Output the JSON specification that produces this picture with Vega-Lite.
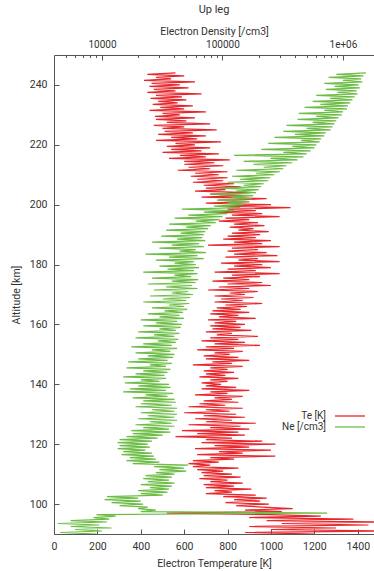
{
"$schema":"https://vega.github.io/schema/vega-lite/v6.json",
"width":320,"height":479,
"autosize":{"type":"none"},
"padding":{"left":54,"top":55,"right":0,"bottom":37},
"title":{"text":"Up leg","fontSize":11,"fontWeight":"normal","color":"#333","font":"Roboto","offset":11},
"data":{"values":[
{"h":244,"t":560,"n":1550000},{"h":243.5,"t":430,"n":880000},{"h":243,"t":600,"n":1480000},{"h":242.5,"t":470,"n":760000},{"h":242,"t":540,"n":1420000},{"h":241.5,"t":415,"n":1000000},{"h":241,"t":650,"n":1450000},{"h":240.5,"t":450,"n":700000},{"h":240,"t":580,"n":1350000},{"h":239.5,"t":440,"n":850000},
{"h":239,"t":620,"n":1380000},{"h":238.5,"t":460,"n":720000},{"h":238,"t":560,"n":1300000},{"h":237.5,"t":430,"n":900000},{"h":237,"t":680,"n":1320000},{"h":236.5,"t":470,"n":600000},{"h":236,"t":590,"n":1250000},{"h":235.5,"t":445,"n":780000},{"h":235,"t":610,"n":1200000},{"h":234.5,"t":480,"n":560000},
{"h":234,"t":570,"n":1150000},{"h":233.5,"t":455,"n":650000},{"h":233,"t":640,"n":1100000},{"h":232.5,"t":490,"n":480000},{"h":232,"t":600,"n":1080000},{"h":231.5,"t":440,"n":700000},{"h":231,"t":700,"n":1000000},{"h":230.5,"t":500,"n":430000},{"h":230,"t":580,"n":980000},{"h":229.5,"t":465,"n":600000},
{"h":229,"t":650,"n":920000},{"h":228.5,"t":470,"n":420000},{"h":228,"t":610,"n":880000},{"h":227.5,"t":520,"n":560000},{"h":227,"t":720,"n":850000},{"h":226.5,"t":460,"n":340000},{"h":226,"t":600,"n":820000},{"h":225.5,"t":500,"n":500000},{"h":225,"t":750,"n":790000},{"h":224.5,"t":510,"n":320000},
{"h":224,"t":640,"n":720000},{"h":223.5,"t":480,"n":400000},{"h":223,"t":700,"n":700000},{"h":222.5,"t":540,"n":270000},{"h":222,"t":660,"n":660000},{"h":221.5,"t":470,"n":450000},{"h":221,"t":770,"n":640000},{"h":220.5,"t":560,"n":240000},{"h":220,"t":650,"n":600000},{"h":219.5,"t":520,"n":380000},
{"h":219,"t":720,"n":580000},{"h":218.5,"t":540,"n":210000},{"h":218,"t":680,"n":540000},{"h":217.5,"t":500,"n":320000},{"h":217,"t":760,"n":500000},{"h":216.5,"t":580,"n":125000},{"h":216,"t":700,"n":470000},{"h":215.5,"t":530,"n":250000},{"h":215,"t":810,"n":420000},{"h":214.5,"t":600,"n":150000},
{"h":214,"t":740,"n":380000},{"h":213.5,"t":600,"n":180000},{"h":213,"t":780,"n":340000},{"h":212.5,"t":620,"n":220000},{"h":212,"t":720,"n":320000},{"h":211.5,"t":570,"n":130000},{"h":211,"t":800,"n":300000},{"h":210.5,"t":650,"n":190000},{"h":210,"t":760,"n":270000},{"h":209.5,"t":630,"n":120000},
{"h":209,"t":800,"n":250000},{"h":208.5,"t":660,"n":140000},{"h":208,"t":780,"n":240000},{"h":207.5,"t":640,"n":110000},{"h":207,"t":830,"n":220000},{"h":206.5,"t":690,"n":150000},{"h":206,"t":860,"n":210000},{"h":205.5,"t":700,"n":95000},{"h":205,"t":790,"n":200000},{"h":204.5,"t":650,"n":130000},
{"h":204,"t":900,"n":190000},{"h":203.5,"t":720,"n":80000},{"h":203,"t":870,"n":180000},{"h":202.5,"t":680,"n":120000},{"h":202,"t":980,"n":175000},{"h":201.5,"t":760,"n":90000},{"h":201,"t":900,"n":165000},{"h":200.5,"t":700,"n":110000},{"h":200,"t":1000,"n":150000},{"h":199.5,"t":780,"n":85000},
{"h":199,"t":1090,"n":140000},{"h":198.5,"t":800,"n":46000},{"h":198,"t":930,"n":125000},{"h":197.5,"t":740,"n":70000},{"h":197,"t":960,"n":110000},{"h":196.5,"t":820,"n":52000},{"h":196,"t":1040,"n":100000},{"h":195.5,"t":790,"n":40000},{"h":195,"t":900,"n":95000},{"h":194.5,"t":760,"n":60000},
{"h":194,"t":940,"n":88000},{"h":193.5,"t":830,"n":36000},{"h":193,"t":970,"n":80000},{"h":192.5,"t":810,"n":50000},{"h":192,"t":920,"n":76000},{"h":191.5,"t":850,"n":34000},{"h":191,"t":990,"n":72000},{"h":190.5,"t":820,"n":45000},{"h":190,"t":950,"n":70000},{"h":189.5,"t":800,"n":31000},
{"h":189,"t":930,"n":68000},{"h":188.5,"t":780,"n":42000},{"h":188,"t":1000,"n":72000},{"h":187.5,"t":830,"n":26000},{"h":187,"t":960,"n":64000},{"h":186.5,"t":710,"n":38000},{"h":186,"t":1040,"n":70000},{"h":185.5,"t":820,"n":30000},{"h":185,"t":940,"n":60000},{"h":184.5,"t":800,"n":44000},
{"h":184,"t":980,"n":73000},{"h":183.5,"t":830,"n":23000},{"h":183,"t":1030,"n":62000},{"h":182.5,"t":790,"n":36000},{"h":182,"t":940,"n":70000},{"h":181.5,"t":850,"n":28000},{"h":181,"t":1040,"n":58000},{"h":180.5,"t":770,"n":40000},{"h":180,"t":960,"n":60000},{"h":179.5,"t":830,"n":30000},
{"h":179,"t":1000,"n":64000},{"h":178.5,"t":800,"n":35000},{"h":178,"t":930,"n":58000},{"h":177.5,"t":740,"n":22000},{"h":177,"t":1040,"n":62000},{"h":176.5,"t":820,"n":40000},{"h":176,"t":950,"n":55000},{"h":175.5,"t":780,"n":26000},{"h":175,"t":900,"n":63000},{"h":174.5,"t":730,"n":38000},
{"h":174,"t":960,"n":60000},{"h":173.5,"t":800,"n":24000},{"h":173,"t":1000,"n":56000},{"h":172.5,"t":760,"n":34000},{"h":172,"t":900,"n":62000},{"h":171.5,"t":710,"n":27000},{"h":171,"t":940,"n":52000},{"h":170.5,"t":810,"n":38000},{"h":170,"t":880,"n":57000},{"h":169.5,"t":740,"n":25000},
{"h":169,"t":920,"n":54000},{"h":168.5,"t":770,"n":32000},{"h":168,"t":870,"n":50000},{"h":167.5,"t":740,"n":22000},{"h":167,"t":960,"n":53000},{"h":166.5,"t":790,"n":36000},{"h":166,"t":890,"n":48000},{"h":165.5,"t":750,"n":26000},{"h":165,"t":860,"n":51000},{"h":164.5,"t":730,"n":33000},
{"h":164,"t":900,"n":47000},{"h":163.5,"t":720,"n":24000},{"h":163,"t":850,"n":44000},{"h":162.5,"t":760,"n":30000},{"h":162,"t":930,"n":48000},{"h":161.5,"t":710,"n":21000},{"h":161,"t":840,"n":42000},{"h":160.5,"t":740,"n":28000},{"h":160,"t":880,"n":46000},{"h":159.5,"t":720,"n":22000},
{"h":159,"t":860,"n":45000},{"h":158.5,"t":730,"n":30000},{"h":158,"t":910,"n":41000},{"h":157.5,"t":700,"n":20000},{"h":157,"t":820,"n":44000},{"h":156.5,"t":750,"n":27000},{"h":156,"t":940,"n":40000},{"h":155.5,"t":720,"n":19000},{"h":155,"t":850,"n":43000},{"h":154.5,"t":680,"n":29000},
{"h":154,"t":880,"n":41000},{"h":153.5,"t":740,"n":22000},{"h":153,"t":950,"n":38000},{"h":152.5,"t":700,"n":17500},{"h":152,"t":830,"n":42000},{"h":151.5,"t":660,"n":26000},{"h":151,"t":870,"n":37000},{"h":150.5,"t":740,"n":19000},{"h":150,"t":810,"n":40000},{"h":149.5,"t":690,"n":24000},
{"h":149,"t":850,"n":39000},{"h":148.5,"t":700,"n":20000},{"h":148,"t":900,"n":35000},{"h":147.5,"t":730,"n":16500},{"h":147,"t":820,"n":38000},{"h":146.5,"t":640,"n":25000},{"h":146,"t":870,"n":34000},{"h":145.5,"t":720,"n":16000},{"h":145,"t":800,"n":37000},{"h":144.5,"t":690,"n":22000},
{"h":144,"t":830,"n":35000},{"h":143.5,"t":700,"n":19000},{"h":143,"t":790,"n":33000},{"h":142.5,"t":670,"n":15000},{"h":142,"t":850,"n":34000},{"h":141.5,"t":720,"n":21000},{"h":141,"t":800,"n":30000},{"h":140.5,"t":680,"n":15500},{"h":140,"t":770,"n":36000},{"h":139.5,"t":700,"n":20000},
{"h":139,"t":840,"n":37000},{"h":138.5,"t":680,"n":17000},{"h":138,"t":900,"n":34000},{"h":137.5,"t":720,"n":15000},{"h":137,"t":800,"n":39000},{"h":136.5,"t":650,"n":23000},{"h":136,"t":870,"n":35000},{"h":135.5,"t":740,"n":18000},{"h":135,"t":820,"n":40000},{"h":134.5,"t":690,"n":22000},
{"h":134,"t":850,"n":41000},{"h":133.5,"t":670,"n":21000},{"h":133,"t":790,"n":38000},{"h":132.5,"t":620,"n":19000},{"h":132,"t":870,"n":42000},{"h":131.5,"t":700,"n":26000},{"h":131,"t":810,"n":40000},{"h":130.5,"t":600,"n":21000},{"h":130,"t":840,"n":42000},{"h":129.5,"t":690,"n":24000},
{"h":129,"t":880,"n":40000},{"h":128.5,"t":650,"n":20000},{"h":128,"t":820,"n":42000},{"h":127.5,"t":700,"n":25000},{"h":127,"t":930,"n":38000},{"h":126.5,"t":620,"n":19000},{"h":126,"t":860,"n":40000},{"h":125.5,"t":720,"n":22000},{"h":125,"t":900,"n":36000},{"h":124.5,"t":590,"n":17500},
{"h":124,"t":850,"n":37000},{"h":123.5,"t":660,"n":18000},{"h":123,"t":880,"n":32000},{"h":122.5,"t":560,"n":16000},{"h":122,"t":820,"n":29000},{"h":121.5,"t":700,"n":14000},{"h":121,"t":960,"n":26000},{"h":120.5,"t":680,"n":13500},{"h":120,"t":1020,"n":24000},{"h":119.5,"t":740,"n":14000},
{"h":119,"t":900,"n":25000},{"h":118.5,"t":650,"n":13500},{"h":118,"t":1000,"n":23000},{"h":117.5,"t":760,"n":15000},{"h":117,"t":870,"n":26000},{"h":116.5,"t":660,"n":14500},{"h":116,"t":1020,"n":27000},{"h":115.5,"t":720,"n":17000},{"h":115,"t":830,"n":28000},{"h":114.5,"t":640,"n":16000},
{"h":114,"t":760,"n":30000},{"h":113.5,"t":620,"n":18000},{"h":113,"t":720,"n":52000},{"h":112.5,"t":640,"n":27000},{"h":112,"t":850,"n":48000},{"h":111.5,"t":660,"n":30000},{"h":111,"t":780,"n":50000},{"h":110.5,"t":680,"n":28000},{"h":110,"t":820,"n":40000},{"h":109.5,"t":690,"n":23000},
{"h":109,"t":860,"n":38000},{"h":108.5,"t":670,"n":22000},{"h":108,"t":800,"n":36000},{"h":107.5,"t":720,"n":24000},{"h":107,"t":870,"n":40000},{"h":106.5,"t":690,"n":21000},{"h":106,"t":830,"n":38000},{"h":105.5,"t":700,"n":25000},{"h":105,"t":910,"n":36000},{"h":104.5,"t":740,"n":20000},
{"h":104,"t":820,"n":35000},{"h":103.5,"t":700,"n":21000},{"h":103,"t":930,"n":32000},{"h":102.5,"t":780,"n":11000},{"h":102,"t":980,"n":20000},{"h":101.5,"t":830,"n":10500},{"h":101,"t":950,"n":21000},{"h":100.5,"t":790,"n":12000},{"h":100,"t":990,"n":22000},{"h":99.5,"t":840,"n":14000},
{"h":99,"t":960,"n":24000},{"h":98.5,"t":1100,"n":20000},{"h":98,"t":880,"n":28000},{"h":97.5,"t":1050,"n":21000},{"h":97,"t":520,"n":740000},{"h":96.5,"t":1000,"n":9000},{"h":96,"t":1230,"n":13000},{"h":95.5,"t":900,"n":8500},{"h":95,"t":1380,"n":11500},{"h":94.5,"t":980,"n":5500},
{"h":94,"t":1500,"n":11000},{"h":93.5,"t":1050,"n":4300},{"h":93,"t":1450,"n":9500},{"h":92.5,"t":900,"n":5500},{"h":92,"t":1300,"n":12000},{"h":91.5,"t":1000,"n":6000},{"h":91,"t":1500,"n":10000},{"h":90.5,"t":880,"n":4500},{"h":90,"t":1200,"n":9000}
]},
"layer":[
{"mark":{"type":"line","strokeWidth":1.2,"clip":true},
 "encoding":{
  "x":{"field":"t","type":"quantitative","scale":{"domain":[0,1475],"nice":false,"zero":false},
       "axis":{"orient":"bottom","values":[0,200,400,600,800,1000,1200,1400],"format":"d","title":"Electron Temperature [K]","tickSize":-5,"labelPadding":12,"titleY":32,"titleBaseline":"alphabetic"}},
  "y":{"field":"h","type":"quantitative","scale":{"domain":[90,250],"nice":false,"zero":false},
       "axis":{"values":[100,120,140,160,180,200,220,240],"title":"Altitude [km]","tickSize":-5,"labelPadding":12,"titlePadding":8}},
  "order":{"field":"h","type":"quantitative"},
  "color":{"datum":"Te [K]","type":"nominal","scale":{"domain":["Te [K]","Ne [/cm3]"],"range":["#e8262b","#6cbd45"]},
     "legend":{"title":null,"orient":"none","legendX":290,"legendY":355,"padding":0,"symbolType":"M-3,0H3","symbolSize":100,"symbolStrokeWidth":1.3,"labelAlign":"right","labelOffset":-30,"labelFontSize":10,"labelColor":"#333","rowPadding":-4}}
 }},
{"mark":{"type":"line","strokeWidth":1.2,"clip":true},
 "encoding":{
  "x":{"field":"n","type":"quantitative","scale":{"type":"log","domain":[4000,1810000],"nice":false},
       "axis":{"orient":"top","title":"Electron Density [/cm3]","values":[5000,6000,7000,8000,9000,10000,20000,30000,40000,50000,60000,70000,80000,90000,100000,200000,300000,400000,500000,600000,700000,800000,900000,1000000],
        "labelExpr":"datum.value==10000?'10000':datum.value==100000?'100000':datum.value==1000000?'1e+06':''",
        "tickSize":{"condition":{"test":"datum.value==10000||datum.value==100000||datum.value==1000000","value":-5},"value":-2.5},
        "labelPadding":11,"labelFontSize":10,"titleY":-21,"titleBaseline":"alphabetic"}},
  "y":{"field":"h","type":"quantitative"},
  "order":{"field":"h","type":"quantitative"},
  "color":{"datum":"Ne [/cm3]","type":"nominal"}
 }}
],
"resolve":{"scale":{"x":"independent"},"axis":{"x":"independent"}},
"config":{"font":"Roboto","view":{"stroke":null},
 "axis":{"grid":false,"labelFontSize":10.5,"titleFontSize":10.5,"titleFontWeight":"normal","labelColor":"#333","titleColor":"#333","domainColor":"#555","tickColor":"#555","labelFlush":false,"labelOverlap":false}}
}
